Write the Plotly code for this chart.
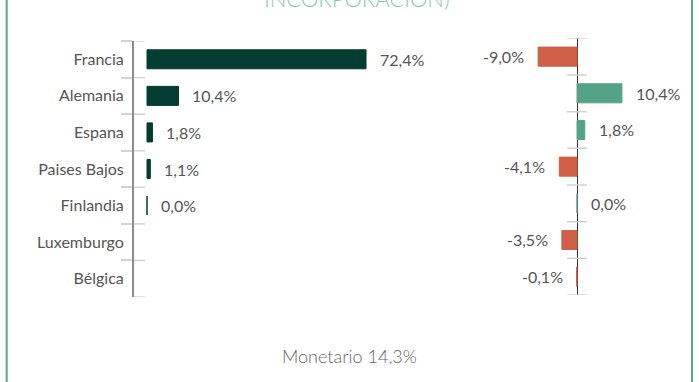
import plotly.graph_objects as go

# Country breakdown: current weight (left) and change since inception (right)
countries = ["Francia", "Alemania", "Espana", "Paises Bajos", "Finlandia", "Luxemburgo", "Bélgica"]
weights = [72.4, 10.4, 1.8, 1.1, 0.0, None, None]
changes = [-9.0, 10.4, 1.8, -4.1, 0.0, -3.5, -0.1]
cash_label = "Monetario 14,3%"
title_tail = "INCORPORACIÓN)"

W, H = 699, 382
DARK = "#033c30"
GREEN = "#55a386"
RED = "#cf5f47"
TEXT = "#555555"
FONT = "Lato"


def fmt(v):
    return f"{v:.1f}".replace(".", ",") + "%"


def px_x(p):
    return p / W


def px_y(p):
    return 1 - p / H


fig = go.Figure()

fig.add_trace(go.Bar(
    x=weights, y=countries, orientation="h", xaxis="x", yaxis="y",
    width=0.52, marker=dict(color=DARK, line=dict(color=DARK, width=1)),
    hoverinfo="skip",
))

fig.add_trace(go.Bar(
    x=changes, y=countries, orientation="h", xaxis="x2", yaxis="y2",
    width=0.52,
    marker=dict(color=[GREEN if v >= 0 else RED for v in changes],
                line=dict(color=[GREEN if v >= 0 else RED for v in changes], width=1)),
    hoverinfo="skip",
))

annotations = []
for c, v in zip(countries, weights):
    if v is None:
        continue
    annotations.append(dict(x=v, y=c, xref="x", yref="y", text=fmt(v), showarrow=False,
                            xanchor="left", xshift=12,
                            font=dict(family=FONT, size=16, color=TEXT)))
for c, v in zip(countries, changes):
    neg = v < 0
    annotations.append(dict(x=v, y=c, xref="x2", yref="y2", text=fmt(v), showarrow=False,
                            xanchor="right" if neg else "left", xshift=-12 if neg else 12,
                            font=dict(family=FONT, size=16, color=TEXT)))

annotations.append(dict(x=px_x(349), y=px_y(356), xref="paper", yref="paper", text=cash_label,
                        showarrow=False, xanchor="center", yanchor="middle",
                        font=dict(family=FONT, size=18, color="#666666", weight=300)))
annotations.append(dict(x=px_x(357), y=1.0, xref="paper", yref="paper", text=title_tail,
                        showarrow=False, xanchor="center", yanchor="middle", yshift=2,
                        font=dict(family=FONT, size=22, color="#86cbb2", weight=300)))

shapes = []
n = len(countries)
left_w = 450 - 134
for i in range(n + 1):
    # inner half of the boundary ticks on the left axis
    shapes.append(dict(type="line", xref="x domain", yref="y", x0=0, x1=11 / left_w,
                       y0=i - 0.5, y1=i - 0.5, line=dict(color="#d2d2d2", width=1.5)))
    # boundary ticks crossing the zero line on the right panel
    shapes.append(dict(type="line", xref="x2", yref="y2", x0=-2.3, x1=2.3,
                       y0=i - 0.5, y1=i - 0.5, line=dict(color="#d2d2d2", width=1.5)))

# frame lines on both sides
for xp in (6.7, 692):
    shapes.append(dict(type="line", xref="paper", yref="paper", x0=px_x(xp), x1=px_x(xp),
                       y0=0, y1=1, line=dict(color="#5aa58a", width=2)))

fig.update_layout(
    width=W, height=H, margin=dict(l=0, r=0, t=0, b=0),
    paper_bgcolor="white", plot_bgcolor="rgba(0,0,0,0)",
    showlegend=False, bargap=0.48,
    font=dict(family=FONT, color=TEXT),
    xaxis=dict(domain=[px_x(134), px_x(450)], range=[-4.3, -4.3 + left_w / 3.025],
               showgrid=False, zeroline=False, showticklabels=False, showline=False,
               automargin=False, fixedrange=True),
    yaxis=dict(domain=[px_y(297), px_y(41)], type="category", categoryorder="array",
               categoryarray=countries, range=[n - 0.5, -0.5], anchor="x",
               showline=True, linecolor="#8c8c8c", linewidth=2,
               ticks="outside", ticklen=11, tickwidth=1.5, tickcolor="#d2d2d2",
               tickson="boundaries", ticklabelstandoff=5, showgrid=False, automargin=False,
               tickfont=dict(family=FONT, size=16, color=TEXT)),
    xaxis2=dict(domain=[px_x(500), px_x(680)],
                range=[(500 - 577) / 4.32, (680 - 577) / 4.32], anchor="y2",
                showgrid=False, zeroline=True, zerolinecolor="#333333", zerolinewidth=1,
                showticklabels=False, showline=False, automargin=False),
    yaxis2=dict(domain=[px_y(295), px_y(38.3)], type="category", categoryorder="array",
                categoryarray=countries, range=[n - 0.5, -0.5], anchor="x2",
                showticklabels=False, ticks="", showline=False, showgrid=False,
                automargin=False),
    annotations=annotations,
    shapes=shapes,
)

fig.write_html("out.html")
